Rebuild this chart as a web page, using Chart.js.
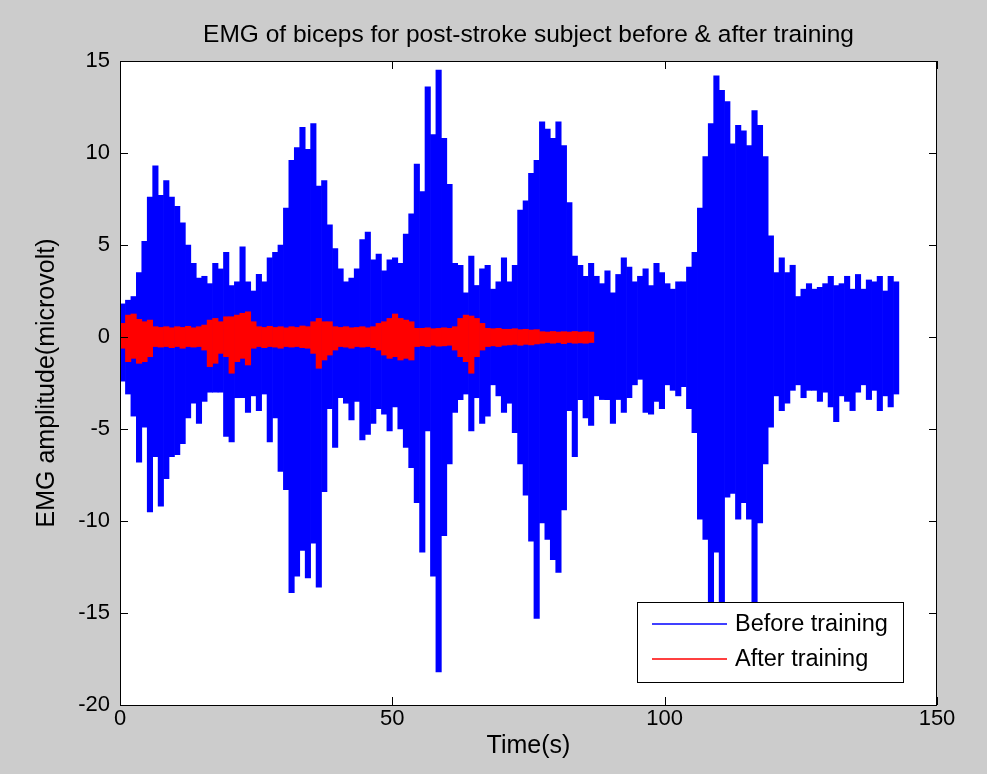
<!DOCTYPE html>
<html>
<head>
<meta charset="utf-8">
<title>EMG of biceps for post-stroke subject before &amp; after training</title>
<script src="https://cdn.jsdelivr.net/npm/chart.js@4.4.1/dist/chart.umd.min.js"></script>
<style>
  html, body { margin: 0; padding: 0; background: #cccccc; }
  #wrap { width: 987px; height: 774px; }
</style>
</head>
<body>
<div id="wrap"><canvas id="emg" width="987" height="774"></canvas></div>
<script>
'use strict';

/* ── DATA (envelope, one min/max reading per second) ── */
const beforeHigh = [
  1.8, 2.0, 2.2, 3.5, 5.2, 7.6, 9.3, 7.7, 8.5, 7.6,
  7.1, 6.2, 5.0, 4.0, 3.2, 3.3, 2.9, 4.0, 3.7, 4.6,
  2.8, 3.0, 4.9, 3.0, 2.5, 3.4, 3.0, 4.3, 4.6, 5.0,
  7.0, 9.6, 10.3, 11.4, 10.2, 11.6, 8.2, 8.5, 6.1, 4.8,
  3.7, 3.0, 3.2, 3.7, 5.3, 5.7, 4.2, 4.5, 3.6, 4.2,
  4.3, 4.0, 5.6, 6.7, 9.4, 7.9, 13.6, 11.0, 14.5, 10.8,
  8.3, 4.0, 3.9, 2.4, 4.4, 2.8, 3.7, 3.9, 2.6, 3.0,
  4.3, 3.0, 3.9, 6.9, 7.4, 8.9, 9.6, 11.7, 11.3, 10.8,
  11.7, 10.4, 7.3, 4.4, 3.9, 3.3, 4.0, 3.3, 2.9, 3.6,
  2.4, 3.4, 4.3, 3.8, 3.0, 3.3, 3.7, 2.8, 4.0, 3.5,
  2.9, 2.6, 3.0, 3.0, 3.8, 4.6, 7.0, 9.8, 11.6, 14.2,
  13.4, 12.8, 10.5, 11.5, 11.2, 10.4, 12.3, 11.5, 9.8, 5.5,
  3.5, 4.3, 3.5, 3.9, 2.2, 2.6, 2.9, 2.6, 2.7, 2.9,
  3.3, 2.8, 2.9, 3.3, 2.6, 3.4, 2.6, 3.1, 3.0, 3.3,
  2.5, 3.3, 3.0
];
const beforeLow = [
  -2.4, -3.1, -4.3, -6.8, -4.9, -9.5, -6.5, -9.2, -7.7, -6.5,
  -6.4, -5.8, -4.4, -3.6, -4.7, -3.5, -3.0, -3.0, -3.0, -5.4,
  -5.7, -3.3, -3.3, -4.1, -3.2, -4.0, -3.1, -5.7, -4.4, -7.3,
  -8.3, -13.9, -13.0, -11.6, -13.1, -11.2, -13.6, -8.4, -3.9, -6.0,
  -3.3, -3.6, -4.5, -3.5, -5.6, -5.3, -4.7, -3.9, -4.2, -5.1,
  -3.8, -5.0, -6.0, -7.1, -9.0, -11.7, -5.1, -13.0, -18.2, -10.8,
  -6.9, -4.1, -3.4, -3.1, -5.1, -3.3, -4.7, -4.3, -2.6, -3.2,
  -4.1, -3.6, -5.2, -6.9, -8.6, -11.1, -15.3, -10.1, -11.0, -12.1,
  -12.8, -9.4, -4.0, -6.5, -3.4, -4.4, -4.8, -3.2, -3.4, -3.4,
  -4.7, -3.4, -4.1, -3.3, -2.6, -2.3, -4.1, -4.2, -3.5, -3.9,
  -2.6, -2.9, -3.2, -2.7, -3.9, -5.2, -9.9, -11.0, -14.4, -11.7,
  -14.4, -8.7, -8.5, -9.9, -9.0, -9.9, -14.4, -10.1, -6.9, -4.9,
  -3.2, -4.0, -3.6, -2.9, -2.6, -3.3, -2.9, -2.9, -3.5, -3.0,
  -3.8, -4.6, -3.2, -3.5, -4.0, -3.0, -2.6, -3.4, -2.9, -4.0,
  -3.2, -3.8, -3.1
];
const afterHigh = [
  0.74, 1.19, 1.25, 0.96, 0.83, 0.92, 0.56, 0.52, 0.56, 0.50,
  0.56, 0.52, 0.58, 0.50, 0.56, 0.65, 0.92, 1.01, 0.83, 1.10,
  1.10, 1.19, 1.29, 1.37, 0.83, 0.56, 0.52, 0.58, 0.52, 0.56,
  0.50, 0.56, 0.52, 0.60, 0.56, 0.83, 1.01, 0.83, 0.83, 0.56,
  0.52, 0.56, 0.50, 0.52, 0.56, 0.50, 0.56, 0.74, 0.83, 1.01,
  1.25, 1.01, 0.92, 0.83, 0.47, 0.47, 0.50, 0.45, 0.47, 0.50,
  0.47, 0.56, 1.01, 1.19, 1.14, 1.01, 0.74, 0.47, 0.45, 0.47,
  0.42, 0.42, 0.45, 0.40, 0.42, 0.38, 0.40, 0.29, 0.27, 0.30,
  0.27, 0.29, 0.27, 0.30, 0.27, 0.29, 0.27
];
const afterLow = [
  -0.61, -1.34, -1.16, -1.43, -1.34, -1.07, -0.52, -0.55, -0.52, -0.58,
  -0.52, -0.61, -0.52, -0.55, -0.52, -0.71, -1.61, -1.43, -0.89, -1.07,
  -1.97, -1.34, -1.16, -1.52, -0.61, -0.52, -0.58, -0.52, -0.55, -0.61,
  -0.52, -0.55, -0.52, -0.58, -0.61, -0.89, -1.70, -1.25, -0.98, -0.71,
  -0.52, -0.55, -0.61, -0.52, -0.55, -0.52, -0.58, -0.71, -0.98, -1.16,
  -1.07, -1.25, -1.16, -1.25, -0.52, -0.48, -0.52, -0.45, -0.50, -0.48,
  -0.45, -0.71, -1.07, -1.34, -1.97, -1.07, -0.71, -0.52, -0.48, -0.52,
  -0.45, -0.43, -0.40, -0.45, -0.40, -0.43, -0.38, -0.34, -0.30, -0.34,
  -0.30, -0.36, -0.30, -0.34, -0.32, -0.34, -0.30
];
const xTickValues = [0, 50, 100, 150];
const yTickValues = [15, 10, 5, 0, -5, -10, -15, -20];
const seriesLabels = ['Before training', 'After training'];

/* ── Helpers ── */
// one floating bar per second, spanning the min..max swing read for that second
function toSpans(high, low) {
  return high.map((h, i) => ({ x: i + 0.5, y: [low[i], h] }));
}

const FONT = "'Liberation Sans', Arial, Helvetica, sans-serif";
Chart.defaults.font.family = FONT;
Chart.defaults.font.size = 22;
Chart.defaults.color = '#000';

/* ── MATLAB style box, inward ticks and legend ── */
const matlabAxes = {
  id: 'matlabAxes',
  beforeDraw(chart) {
    const { ctx, chartArea: a } = chart;
    ctx.save();
    ctx.fillStyle = '#ffffff';
    ctx.fillRect(a.left, a.top, a.right - a.left, a.bottom - a.top);
    ctx.restore();
  },
  afterDatasetsDraw(chart) {
    const { ctx, chartArea: a, scales } = chart;
    const tl = 8;
    ctx.save();
    ctx.strokeStyle = '#000';
    ctx.lineWidth = 1;
    ctx.beginPath();
    scales.x.ticks.forEach(t => {
      const px = Math.round(scales.x.getPixelForValue(t.value)) + 0.5;
      ctx.moveTo(px, a.bottom); ctx.lineTo(px, a.bottom - tl);
      ctx.moveTo(px, a.top);    ctx.lineTo(px, a.top + tl);
    });
    scales.y.ticks.forEach(t => {
      const py = Math.round(scales.y.getPixelForValue(t.value)) + 0.5;
      ctx.moveTo(a.left, py);  ctx.lineTo(a.left + tl, py);
      ctx.moveTo(a.right, py); ctx.lineTo(a.right - tl, py);
    });
    ctx.stroke();
    ctx.strokeRect(a.left + 0.5, a.top + 0.5, a.right - a.left - 1, a.bottom - a.top);

    /* legend, bottom right inside the axes */
    const lw = 266, lh = 80;
    const lx = a.right - 34 - lw, ly = a.bottom - 23 - lh;
    ctx.fillStyle = '#ffffff';
    ctx.fillRect(lx, ly, lw, lh);
    ctx.strokeRect(lx + 0.5, ly + 0.5, lw, lh);
    ctx.font = '23.5px ' + FONT;
    ctx.textBaseline = 'middle';
    ctx.textAlign = 'left';
    chart.data.datasets.forEach((ds, i) => {
      const y = ly + 22 + i * 35;
      ctx.strokeStyle = ds.borderColor;
      ctx.lineWidth = 1.5;
      ctx.beginPath();
      ctx.moveTo(lx + 15, y);
      ctx.lineTo(lx + 90, y);
      ctx.stroke();
      ctx.fillStyle = '#000';
      ctx.fillText(ds.label, lx + 98, y + 1);
    });
    ctx.restore();
  },
};

/* ── Chart ── */
new Chart(document.getElementById('emg'), {
  type: 'bar',
  data: {
    datasets: [
      {
        label: seriesLabels[0],
        data: toSpans(beforeHigh, beforeLow),
        backgroundColor: '#0000ff',
        borderColor: '#0000ff',
        borderWidth: 0,
        grouped: false,
        barPercentage: 1,
        categoryPercentage: 1,
        order: 1,
      },
      {
        label: seriesLabels[1],
        data: toSpans(afterHigh, afterLow),
        backgroundColor: '#ff0000',
        borderColor: '#ff0000',
        borderWidth: 0,
        grouped: false,
        barPercentage: 1,
        categoryPercentage: 1,
        order: 0,
      },
    ],
  },
  options: {
    responsive: false,
    animation: false,
    events: [],
    layout: { padding: { top: 0, left: 0, right: 50, bottom: 0 } },
    plugins: {
      legend: { display: false },
      tooltip: { enabled: false },
      title: {
        display: true,
        text: 'EMG of biceps for post-stroke subject before & after training',
        fullSize: false,
        color: '#000',
        font: { size: 24.5, weight: 'normal' },
        padding: { top: 20.3, bottom: 11.3 },
      },
    },
    scales: {
      x: {
        type: 'linear',
        min: 0,
        max: 150,
        offset: false,
        afterBuildTicks: s => { s.ticks = xTickValues.map(v => ({ value: v })); },
        afterFit: s => { s.height = 69; },
        grid: { display: false, drawTicks: false, offset: false },
        border: { display: false },
        ticks: { padding: 1, maxRotation: 0, autoSkip: false, color: '#000' },
        title: { display: true, text: 'Time(s)', color: '#000', font: { size: 25 }, padding: { top: 0, bottom: 13 } },
      },
      y: {
        type: 'linear',
        min: -20,
        max: 15,
        afterBuildTicks: s => { s.ticks = yTickValues.map(v => ({ value: v })); },
        afterFit: s => { s.width = 120; },
        grid: { display: false, drawTicks: false },
        border: { display: false },
        ticks: { padding: 10, autoSkip: false, color: '#000' },
        title: { display: true, text: 'EMG amplitude(microvolt)', color: '#000', font: { size: 25 }, padding: { top: 32, bottom: 0 } },
      },
    },
  },
  plugins: [matlabAxes],
});
</script>
</body>
</html>
